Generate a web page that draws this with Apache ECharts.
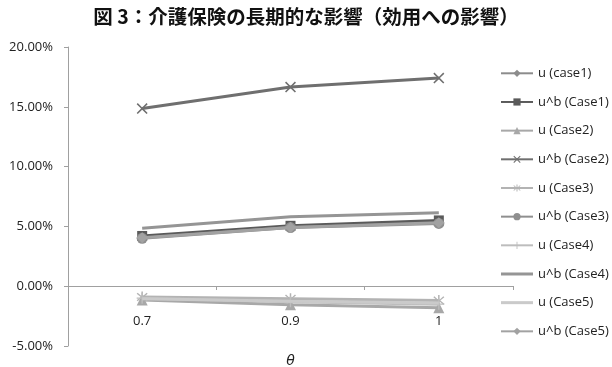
<!DOCTYPE html>
<html><head><meta charset="utf-8">
<script src="https://cdn.jsdelivr.net/npm/echarts@6/dist/echarts.min.js"></script>
<style>html,body{margin:0;padding:0;background:#fff}#c{width:612px;height:367px}</style>
</head><body><div id="c"></div>
<script>
const categories = ['0.7', '0.9', '1'];
const yTicks = [-5, 0, 5, 10, 15, 20];
const seriesNames = ['u (case1)', 'u^b (Case1)', 'u (Case2)', 'u^b (Case2)', 'u (Case3)', 'u^b (Case3)', 'u (Case4)', 'u^b (Case4)', 'u (Case5)', 'u^b (Case5)'];
const u_case1 = [4.1, 4.95, 5.35];
const ub_case1 = [4.2, 5.05, 5.5];
const u_case2 = [-1.15, -1.55, -1.8];
const ub_case2 = [14.85, 16.65, 17.4];
const u_case3 = [-0.9, -1.05, -1.2];
const ub_case3 = [4.0, 4.9, 5.25];
const u_case4 = [-1.0, -1.3, -1.5];
const ub_case4 = [4.85, 5.8, 6.15];
const u_case5 = [-1.05, -1.25, -1.4];
const ub_case5 = [4.05, 4.9, 5.3];

const XP = 'path://M0,1 L1,0 L5,4 L9,0 L10,1 L6,5 L10,9 L9,10 L5,6 L1,10 L0,9 L4,5 Z';
const PLUS = 'path://M4.4,0 H5.6 V4.4 H10 V5.6 H5.6 V10 H4.4 V5.6 H0 V4.4 H4.4 Z';
const AST = 'path://M4.4,0 H5.6 V4.2 L8.6,1.2 L9.4,2 L6.2,5 L9.4,8 L8.6,8.8 L5.6,5.8 V10 H4.4 V5.8 L1.4,8.8 L0.6,8 L3.8,5 L0.6,2 L1.4,1.2 L4.4,4.2 Z';
const LINE_ICON = 'path://M0,0 H32 V3 H0 Z';

const styles = [
  {d: u_case1, c: '#8c8c8c', s: 'diamond'},
  {d: ub_case1, c: '#5a5a5a', s: 'rect'},
  {d: u_case2, c: '#a8a8a8', s: 'triangle'},
  {d: ub_case2, c: '#6f6f6f', s: XP},
  {d: u_case3, c: '#b3b3b3', s: AST},
  {d: ub_case3, c: '#8f8f8f', s: 'circle'},
  {d: u_case4, c: '#bdbdbd', s: PLUS},
  {d: ub_case4, c: '#959595', s: 'none'},
  {d: u_case5, c: '#cacaca', s: 'none'},
  {d: ub_case5, c: '#a2a2a2', s: 'diamond'}
];

const chart = echarts.init(document.getElementById('c'), null, {renderer: 'canvas'});
chart.setOption({
  animation: false,
  title: {
    text: '図 3：介護保険の長期的な影響（効用への影響）',
    left: 'center', top: 2,
    textStyle: {fontFamily: 'Noto Sans CJK JP', fontWeight: 'bold', fontSize: 19.5, color: '#111'}
  },
  legend: {
    orient: 'vertical', left: 500, top: 66.8, padding: 0,
    itemWidth: 32, itemHeight: 9, itemGap: 15.67,
    textStyle: {fontFamily: 'Open Sans', fontSize: 13, color: '#222'},
    data: seriesNames.map((n, i) => styles[i].s === 'none' ? {name: n, icon: LINE_ICON} : {name: n})
  },
  grid: {left: 68, right: 99, top: 47, bottom: 21, containLabel: false, outerBoundsMode: 'none'},
  xAxis: {
    type: 'category', data: categories, boundaryGap: true,
    offset: -60,
    name: 'θ', nameLocation: 'middle', nameGap: 68,
    nameTextStyle: {fontStyle: 'italic', fontSize: 14, color: '#222', fontFamily: 'DejaVu Sans'},
    axisLine: {onZero: false, lineStyle: {color: '#a0a0a0', width: 1}},
    axisTick: {show: true, length: 4, lineStyle: {color: '#a0a0a0'}},
    axisLabel: {fontSize: 13, color: '#222', fontFamily: 'Open Sans', margin: 29}
  },
  yAxis: {
    type: 'value', min: yTicks[0], max: yTicks[yTicks.length - 1], interval: 5,
    axisLine: {show: true, lineStyle: {color: '#a0a0a0'}},
    axisTick: {show: true, length: 4, lineStyle: {color: '#a0a0a0'}},
    splitLine: {show: false},
    axisLabel: {fontSize: 13, color: '#222', fontFamily: 'Open Sans', margin: 15,
      formatter: v => v.toFixed(2) + '%'}
  },
  series: styles.map((st, i) => ({
    name: seriesNames[i], type: 'line', data: st.d,
    symbol: st.s, symbolSize: st.s === 'rect' ? 10 : 11,
    lineStyle: {color: st.c, width: 3},
    itemStyle: {color: st.c},
    z: 2 + i
  }))
});
</script></body></html>
